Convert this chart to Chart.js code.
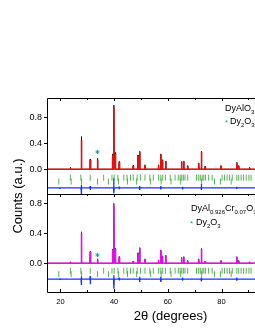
<!DOCTYPE html>
<html>
<head>
<meta charset="utf-8">
<script src="https://cdn.jsdelivr.net/npm/chart.js@4.4.0/dist/chart.umd.min.js"></script>
<style>
  html, body { margin: 0; padding: 0; background: #fff; overflow: hidden; width: 255px; height: 330px; }
  canvas { position: absolute; left: 0; top: 0; }
</style>
</head>
<body>
<canvas id="top" width="300" height="330"></canvas>
<canvas id="bottom" width="300" height="330"></canvas>
<script>
// reflection positions (2θ)
const peakPos = [23.7, 27.8, 31.1, 33.8, 39.4, 39.9, 40.4, 41.9, 47.1, 48.9, 49.5, 51.5, 56.5, 57.4, 58.0, 59.2, 65.1, 65.9, 67.4, 71.5, 72.5, 73.9, 79.8, 85.7, 86.4, 90.4];
// DyAlO3 panel
const topObs  = [0.03, 0.51, 0.16, 0.17, 0.24, 1.00, 0.26, 0.12, 0.06, 0.22, 0.28, 0.07, 0.07, 0.24, 0.15, 0.13, 0.12, 0.13, 0.06, 0.10, 0.28, 0.05, 0.06, 0.11, 0.06, 0.03];
const topCalc = [0.02, 0.45, 0.15, 0.14, 0.22, 0.96, 0.24, 0.11, 0.05, 0.21, 0.27, 0.06, 0.06, 0.23, 0.14, 0.12, 0.11, 0.12, 0.05, 0.09, 0.27, 0.04, 0.05, 0.10, 0.05, 0.02];
// DyAl0.926Cr0.07O3 panel
const botObs  = [0.02, 0.42, 0.16, 0.06, 0.19, 0.80, 0.20, 0.09, 0.03, 0.14, 0.21, 0.06, 0.04, 0.18, 0.10, 0.11, 0.08, 0.09, 0.04, 0.06, 0.20, 0.03, 0.04, 0.09, 0.04, 0.02];
const botCalc = [0.02, 0.40, 0.15, 0.05, 0.18, 0.77, 0.19, 0.08, 0.03, 0.13, 0.20, 0.05, 0.04, 0.17, 0.09, 0.10, 0.07, 0.08, 0.03, 0.05, 0.19, 0.03, 0.03, 0.08, 0.03, 0.02];

// difference curve spikes
const diffPos   = [19.8, 27.8, 31.1, 39.9, 41.9, 49.5, 57.4, 65.5, 72.5, 85.7];
const topDiffUp = [0.01, 0.05, 0.03, 0.15, 0.02, 0.03, 0.03, 0.02, 0.06, 0.02];
const topDiffDn = [0.01, 0.10, 0.03, 0.08, 0.02, 0.03, 0.02, 0.02, 0.03, 0.01];
const botDiffUp = [0.01, 0.035, 0.04, 0.05, 0.02, 0.03, 0.03, 0.02, 0.02, 0.02];
const botDiffDn = [0.01, 0.08, 0.07, 0.13, 0.02, 0.04, 0.04, 0.02, 0.03, 0.02];

// Bragg reflection markers
const braggMain = [23.7, 27.6, 31.1, 36.1, 39.2, 40.0, 41.4, 43.6, 44.8, 46.1, 47.1, 48.6, 49.8, 51.5, 53.3, 54.6, 56.6, 57.4, 58.1, 59.1, 60.9, 62.7, 63.9, 64.6, 65.2, 65.8, 66.4, 67.4, 70.7, 71.5, 72.1, 72.8, 73.4, 74.0, 75.2, 76.5, 80.2, 81.1, 82.1, 83.0, 84.0, 85.7, 86.4, 87.3, 88.2, 89.2, 90.2, 91.0];
const braggDy2O3 = [19.4, 24.0, 27.9, 33.8, 37.9, 41.6, 45.0, 48.4, 53.6, 57.5, 61.2, 64.8, 72.6, 77.4, 79.6, 83.6];

const yTicks = [0, 0.4, 0.8];
const xTicks = [20, 40, 60, 80, 100];

const FONT = '"Liberation Sans", Arial, sans-serif';

function profile(pos, h) {
  const pts = [{x: 15, y: 0}];
  pos.forEach((p, i) => {
    pts.push({x: p - 0.12, y: 0}, {x: p, y: h[i]}, {x: p + 0.12, y: 0});
  });
  pts.push({x: 107, y: 0});
  return pts;
}

function diffCurve(up, dn, base) {
  const pts = [{x: 15, y: base}];
  diffPos.forEach((p, i) => {
    pts.push({x: p - 0.12, y: base}, {x: p - 0.04, y: base + up[i]},
             {x: p + 0.04, y: base - dn[i]}, {x: p + 0.12, y: base});
  });
  pts.push({x: 107, y: base});
  return pts;
}

function ticksAt(list, y) {
  return list.map(v => ({x: v, y: y}));
}

function richText(ctx, parts, x, y, color) {
  ctx.fillStyle = color;
  ctx.textBaseline = 'alphabetic';
  ctx.textAlign = 'left';
  for (const [txt, sub] of parts) {
    ctx.font = (sub ? 6 : 9) + 'px ' + FONT;
    ctx.fillText(txt, x, sub ? y + 2.5 : y);
    x += ctx.measureText(txt).width;
  }
}

function framePlugin(tickTop, tickBottom) {
  return {
    id: 'frame',
    afterDatasetsDraw(chart) {
      const {ctx, chartArea: a, scales} = chart;
      ctx.save();
      ctx.strokeStyle = '#000';
      ctx.lineWidth = 1;
      ctx.beginPath();
      ctx.moveTo(a.right + 5, a.top + 0.5);
      ctx.lineTo(a.left + 0.5, a.top + 0.5);
      ctx.lineTo(a.left + 0.5, a.bottom + 0.5);
      ctx.lineTo(a.right + 5, a.bottom + 0.5);
      for (let v = 20; v <= 100; v += 10) {
        const px = Math.round(scales.x.getPixelForValue(v)) + 0.5;
        const len = v % 20 === 0 ? 3 : 2;
        if (tickTop) { ctx.moveTo(px, a.top); ctx.lineTo(px, a.top + len); }
        if (tickBottom) { ctx.moveTo(px, a.bottom); ctx.lineTo(px, a.bottom - len); }
      }
      ctx.stroke();
      ctx.restore();
    }
  };
}

function yScale(min, max) {
  return {
    min: min, max: max,
    afterFit(s) { s.width = 47; },
    afterBuildTicks(s) { s.ticks = yTicks.map(v => ({value: v})); },
    ticks: {
      color: '#000', font: {family: FONT, size: 9}, padding: 2,
      callback: v => v.toFixed(1)
    },
    grid: {drawOnChartArea: false, tickLength: 3, color: '#000'},
    border: {display: false}
  };
}

function datasets(obs, calc, obsColor, calcColor, braggA, braggB, diff, star) {
  const line = {pointRadius: 0, showLine: true, borderJoinStyle: 'bevel', borderCapStyle: 'butt'};
  return [
    {data: [star], pointStyle: 'star', pointRadius: 2, borderColor: '#17a0a0', borderWidth: 1, showLine: false},
    Object.assign({data: calc, borderColor: calcColor, borderWidth: 1.6}, line),
    Object.assign({data: obs, borderColor: obsColor, borderWidth: 0.9}, line),
    {data: braggA, pointStyle: 'line', rotation: 90, pointRadius: 3, borderColor: '#2f9e2f', borderWidth: 0.8, showLine: false},
    {data: braggB, pointStyle: 'line', rotation: 90, pointRadius: 3, borderColor: '#2f9e2f', borderWidth: 0.8, showLine: false},
    Object.assign({data: diff, borderColor: '#1530ff', borderWidth: 1.3}, line)
  ];
}

const common = {
  responsive: false,
  animation: false,
  plugins: {legend: {display: false}, tooltip: {enabled: false}},
  elements: {line: {tension: 0}}
};

new Chart(document.getElementById('top'), {
  type: 'scatter',
  data: {
    datasets: datasets(profile(peakPos, topObs), profile(peakPos, topCalc), '#111', '#e41010',
      ticksAt(braggMain, -0.13), ticksAt(braggDy2O3, -0.19),
      diffCurve(topDiffUp, topDiffDn, -0.29), {x: 33.8, y: 0.27})
  },
  options: Object.assign({}, common, {
    layout: {padding: {top: 98, bottom: 136, left: 0, right: 6}},
    scales: {
      x: {type: 'linear', min: 15, max: 107, display: false},
      y: yScale(-0.384, 1.109)
    }
  }),
  plugins: [framePlugin(true, false), {
    id: 'labels',
    afterDraw(chart) {
      const ctx = chart.ctx;
      ctx.save();
      richText(ctx, [['DyAlO', false], ['3', true]], 225, 111, '#000');
      ctx.fillStyle = '#17a0a0';
      ctx.font = '8px ' + FONT;
      ctx.fillText('*', 225, 125);
      richText(ctx, [['Dy', false], ['2', true], ['O', false], ['3', true]], 230, 124, '#000');
      // y-axis title across both panels
      ctx.translate(18, 196);
      ctx.rotate(-Math.PI / 2);
      ctx.font = '13px ' + FONT;
      ctx.fillStyle = '#000';
      ctx.textAlign = 'center';
      ctx.textBaseline = 'middle';
      ctx.fillText('Counts (a.u.)', 0, 0);
      ctx.restore();
    }
  }]
});

new Chart(document.getElementById('bottom'), {
  type: 'scatter',
  data: {
    datasets: datasets(profile(peakPos, botObs), profile(peakPos, botCalc), '#7a0a80', '#e010e0',
      ticksAt(braggMain, -0.10), ticksAt(braggDy2O3, -0.145),
      diffCurve(botDiffUp, botDiffDn, -0.21), {x: 33.8, y: 0.11})
  },
  options: Object.assign({}, common, {
    layout: {padding: {top: 194, bottom: 6, left: 0, right: 6}},
    scales: {
      x: {
        type: 'linear', min: 15, max: 107,
        afterFit(s) { s.height = 32; },
        afterBuildTicks(s) { s.ticks = xTicks.map(v => ({value: v})); },
        ticks: {color: '#000', font: {family: FONT, size: 7.5}, padding: 5, maxRotation: 0},
        grid: {drawOnChartArea: false, drawTicks: false},
        border: {display: false},
        title: {display: true, text: '2θ (degrees)', color: '#000', font: {family: FONT, size: 13}, padding: 0}
      },
      y: yScale(-0.383, 0.924)
    }
  }),
  plugins: [framePlugin(true, true), {
    id: 'labels',
    afterDraw(chart) {
      const ctx = chart.ctx;
      ctx.save();
      richText(ctx, [['DyAl', false], ['0.926', true], ['Cr', false], ['0.07', true], ['O', false], ['3', true], [' s', false]], 191, 211, '#000');
      ctx.fillStyle = '#17a0a0';
      ctx.font = '8px ' + FONT;
      ctx.fillText('*', 190, 226);
      richText(ctx, [['Dy', false], ['2', true], ['O', false], ['3', true]], 196, 225, '#000');
      ctx.restore();
    }
  }]
});
</script>
</body>
</html>
